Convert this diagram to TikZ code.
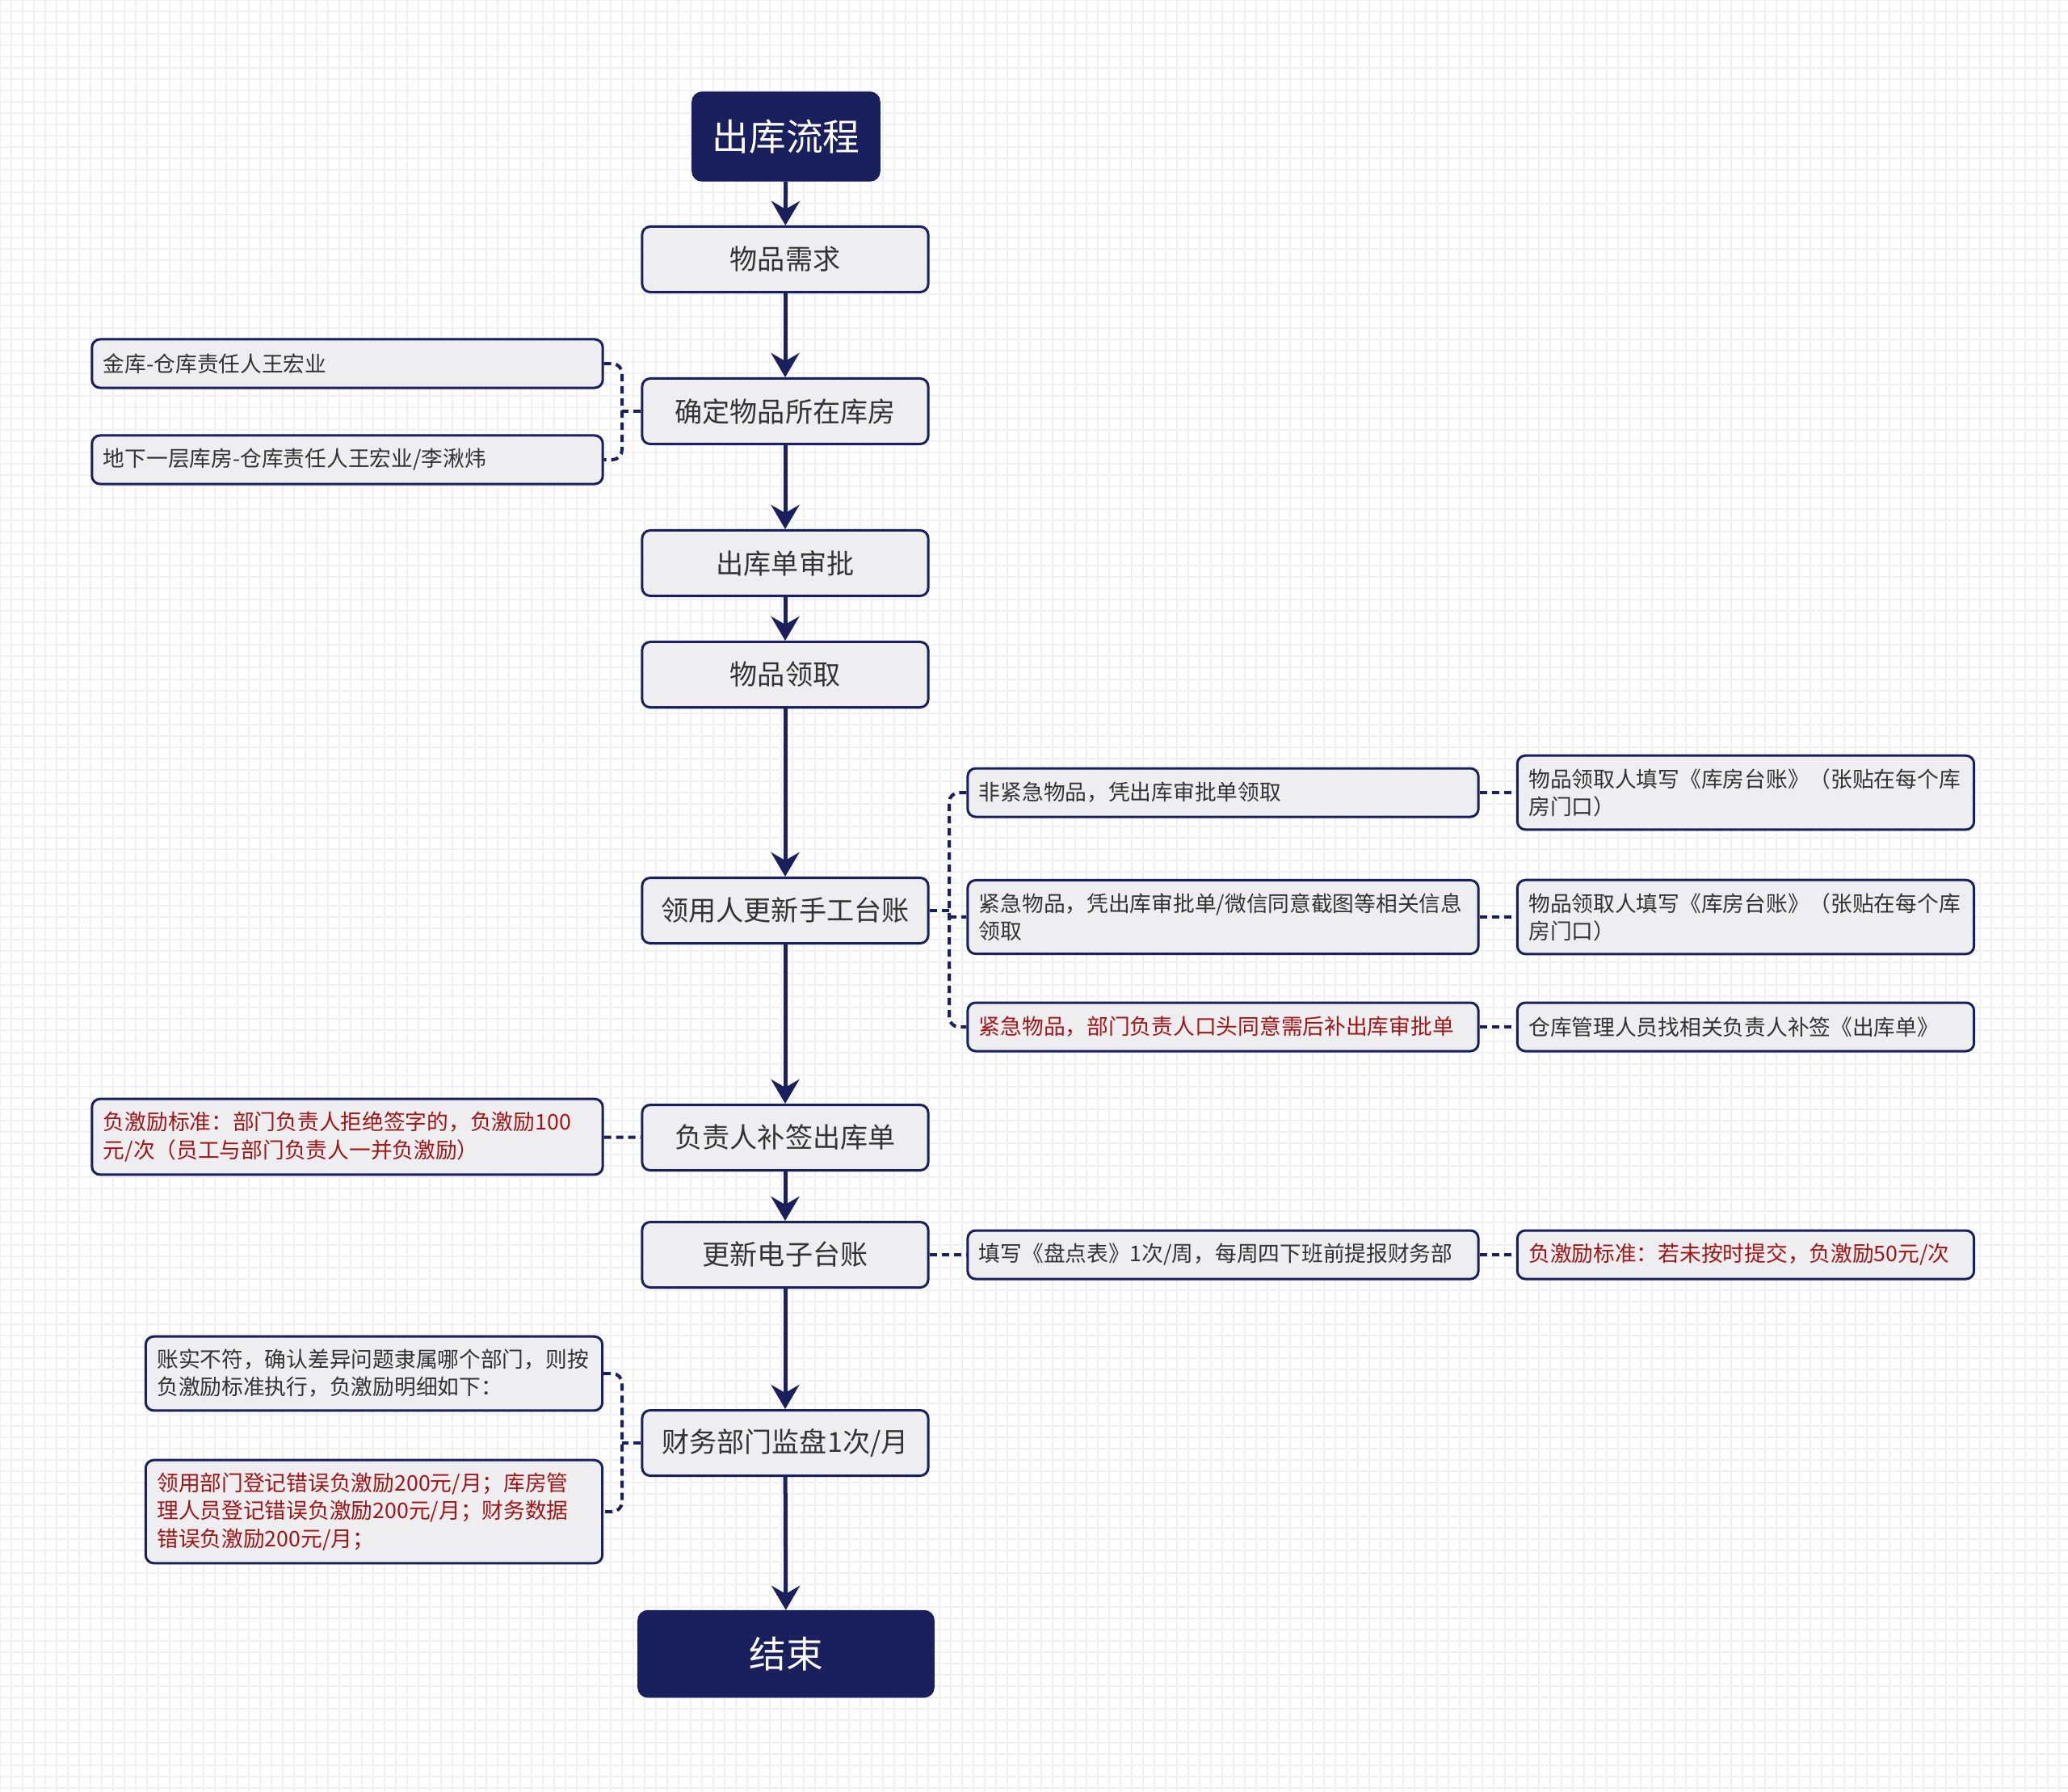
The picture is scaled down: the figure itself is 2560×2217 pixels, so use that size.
\documentclass[tikz,border=0pt]{standalone}
\usepackage{fontspec}
\setmainfont{Noto Sans CJK SC}
\usetikzlibrary{arrows.meta,positioning}

\definecolor{navy}{RGB}{26,31,94}
\definecolor{boxgray}{RGB}{238,238,240}
\definecolor{warnred}{RGB}{160,22,22}
\definecolor{gridgray}{RGB}{240,240,240}

\tikzset{
  mainbox/.style={rectangle,rounded corners=0.1cm,draw=navy,line width=0.03cm,fill=boxgray,
    minimum width=3.54cm,minimum height=0.81cm,text=black!80,
    font=\fontsize{9.7pt}{11.5pt}\selectfont},
  termbox/.style={rectangle,rounded corners=0.12cm,draw=navy,fill=navy,text=white,
    font=\fontsize{13pt}{15pt}\selectfont},
  sidebox/.style={rectangle,rounded corners=0.1cm,draw=navy,line width=0.03cm,fill=boxgray,
    align=left,inner xsep=0.14cm,inner ysep=0.16cm,minimum height=0.6cm,text=black!80,
    font=\fontsize{7.6pt}{9.7pt}\selectfont},
  widebox/.style={sidebox,text width=6.04cm},
  narrowbox/.style={sidebox,text width=5.37cm},
  warn/.style={text=warnred},
  flow/.style={navy,line width=0.05cm,-{Stealth[length=0.3cm,width=0.35cm,inset=0.1cm]}},
  link/.style={navy,line width=0.04cm,dash pattern=on 0.09cm off 0.06cm},
  gridline/.style={gridgray,line width=0.02cm}
}

\begin{document}
\begin{tikzpicture}[x=0.01cm,y=-0.01cm]
    \useasboundingbox (0,0) rectangle (2560,2217);
    \fill[white] (0,0) rectangle (2560,2217);
    \draw[gridline,step=0.14cm] (0,0) grid (2560,2217);

    % main column
    \node[termbox,minimum width=2.32cm,minimum height=1.1cm] (title) at (973,169) {出库流程};
    \node[mainbox] (need) at (972,321) {物品需求};
    \node[mainbox] (store) at (972,509) {确定物品所在库房};
    \node[mainbox] (approve) at (972,697) {出库单审批};
    \node[mainbox] (pick) at (972,835) {物品领取};
    \node[mainbox] (ledger) at (972,1127) {领用人更新手工台账};
    \node[mainbox] (sign) at (972,1408) {负责人补签出库单};
    \node[mainbox] (eledger) at (972,1553) {更新电子台账};
    \node[mainbox] (audit) at (972,1786) {财务部门监盘1次/月};
    \node[termbox,minimum width=3.66cm,minimum height=1.07cm] (finish) at (973,2047) {结束};

    \draw[flow] (title) -- (need);
    \draw[flow] (need) -- (store);
    \draw[flow] (store) -- (approve);
    \draw[flow] (approve) -- (pick);
    \draw[flow] (pick) -- (ledger);
    \draw[flow] (ledger) -- (sign);
    \draw[flow] (sign) -- (eledger);
    \draw[flow] (eledger) -- (audit);
    \draw[flow] (audit) -- (finish);

    % left notes
    \node[widebox] (gold) at (430,450) {金库-仓库责任人王宏业};
    \node[widebox] (base) at (430,569) {地下一层库房-仓库责任人王宏业/李湫炜};
    \node[widebox,warn] (refuse) at (430,1407) {负激励标准：部门负责人拒绝签字的，负激励100\\元/次（员工与部门负责人一并负激励）};
    \node[narrowbox] (mismatch) at (463,1700) {账实不符，确认差异问题隶属哪个部门，则按\\负激励标准执行，负激励明细如下：};
    \node[narrowbox,warn] (detail) at (463,1871) {领用部门登记错误负激励200元/月；库房管\\理人员登记错误负激励200元/月；财务数据\\错误负激励200元/月；};

    % right notes
    \node[widebox] (normal) at (1514,981) {非紧急物品，凭出库审批单领取};
    \node[widebox] (urgent) at (1514,1135) {紧急物品，凭出库审批单/微信同意截图等相关信息\\领取};
    \node[widebox,warn] (oral) at (1514,1271) {紧急物品，部门负责人口头同意需后补出库审批单};
    \node[narrowbox] (fillA) at (2161,981) {物品领取人填写《库房台账》（张贴在每个库\\房门口）};
    \node[narrowbox] (fillB) at (2161,1135) {物品领取人填写《库房台账》（张贴在每个库\\房门口）};
    \node[narrowbox] (resign) at (2161,1271) {仓库管理人员找相关负责人补签《出库单》};
    \node[widebox] (count) at (1514,1553) {填写《盘点表》1次/周，每周四下班前提报财务部};
    \node[narrowbox,warn] (late) at (2161,1553) {负激励标准：若未按时提交，负激励50元/次};

    % dashed links
    \coordinate (brStore) at (770,509);
    \draw[link] (store.west) -- (brStore);
    \draw[link,rounded corners=0.12cm] (gold.east) -| (brStore) |- (base.east);

    \coordinate (brLedger) at (1175,1127);
    \draw[link] (ledger.east) -- (brLedger);
    \draw[link,rounded corners=0.12cm] (normal.west) -| (brLedger) |- (oral.west);
    \draw[link] (brLedger |- urgent.west) -- (urgent.west);
    \draw[link] (normal) -- (fillA);
    \draw[link] (urgent) -- (fillB);
    \draw[link] (oral) -- (resign);

    \draw[link] (refuse) -- (sign);
    \draw[link] (eledger) -- (count);
    \draw[link] (count) -- (late);

    \coordinate (brAudit) at (770,1786);
    \draw[link] (audit.west) -- (brAudit);
    \draw[link,rounded corners=0.12cm] (mismatch.east) -| (brAudit) |- (detail.east);
\end{tikzpicture}
\end{document}
